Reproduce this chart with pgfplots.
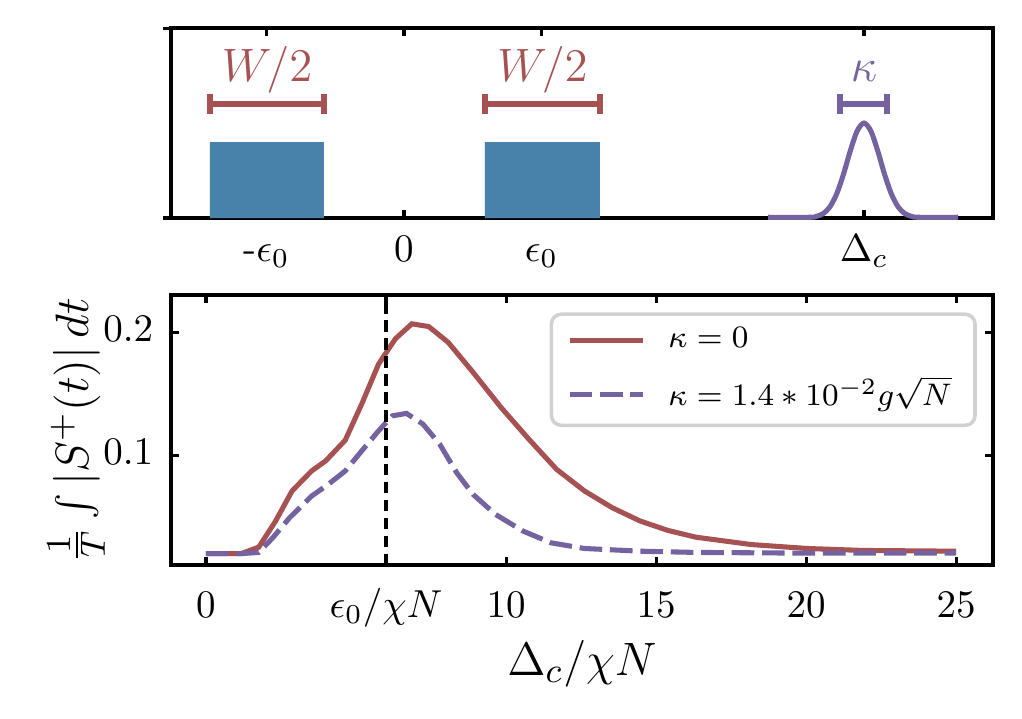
\documentclass[border=0pt]{standalone}
\usepackage{pgfplots}
\pgfplotsset{compat=1.18}
\definecolor{cred}{HTML}{A65252}
\definecolor{cpurple}{HTML}{7463A0}
\definecolor{cblue}{HTML}{4882AA}

\begin{document}
\begin{tikzpicture}
\useasboundingbox (-43.8pt,-39.2pt) rectangle (218.2pt,144.9pt);

% lower panel
\begin{axis}[
    at={(0pt,0pt)}, anchor=south west,
    scale only axis,
    width=210.8pt, height=69.2pt,
    xmin=-1.17, xmax=26.23,
    ymin=0.0106, ymax=0.230,
    xtick={0,6,10,15,20,25},
    xticklabels={$0$,$\epsilon_0/\chi N$,$10$,$15$,$20$,$25$},
    ytick={0.1,0.2},
    yticklabels={$0.1$,$0.2$},
    tick align=inside,
    tick pos=both,
    major tick length=2pt,
    axis line style={line width=1pt},
    tick style={line width=0.8pt, black},
    typeset ticklabels with strut,
    xticklabel style={yshift=-1.5pt},
    yticklabel style={xshift=-1pt},
    xlabel={$\Delta_c/\chi N$},
    ylabel={$\frac{1}{T}\int|S^{+}(t)|\,dt$},
    xlabel style={at={(axis description cs:0.5,0)}, anchor=base, yshift=-28.2pt, font=\fontsize{12.5}{14}\selectfont},
    ylabel style={at={(axis description cs:-0.100,0.5)}, anchor=base, font=\fontsize{12.5}{14}\selectfont},
    legend style={at={(1,1)}, anchor=north east, xshift=-4.2pt, yshift=-4.4pt,
        draw=black!18, line width=0.9pt, rounded corners=2.5pt,
        font=\fontsize{8}{10}\selectfont, row sep=1.8pt, column sep=4pt,
        inner xsep=4pt, inner ysep=1.5pt},
    legend cell align=left,
    legend image code/.code={\draw[#1] (0pt,0pt) -- (18.7pt,0pt);},
]
\addplot[cred, line width=1.3pt] coordinates {
    (0,0.020) (1.17,0.020) (1.76,0.0253) (2.32,0.0465) (2.87,0.071)
    (3.52,0.0872) (3.99,0.0954) (4.64,0.1122) (5.19,0.1416) (5.75,0.174)
    (6.31,0.1946) (6.86,0.2068) (7.42,0.2046) (8.07,0.1918) (8.9,0.1674)
    (9.83,0.1389) (10.76,0.113) (11.68,0.0886) (12.61,0.071) (13.54,0.0573)
    (14.47,0.0465) (15.39,0.0389) (16.32,0.0334) (18.17,0.0274) (20.03,0.0242)
    (21.88,0.0226) (25,0.022)
};
\addlegendentry{$\kappa=0$}
\addplot[cpurple, line width=1.3pt, dash pattern=on 5.8pt off 2pt] coordinates {
    (0,0.020) (1.17,0.020) (1.76,0.021) (2.23,0.033) (2.78,0.049)
    (3.52,0.0668) (4.08,0.0764) (4.64,0.0872) (5.19,0.1035) (5.75,0.1198)
    (6.21,0.132) (6.68,0.134) (7.23,0.1253) (7.79,0.109) (8.35,0.0859)
    (8.9,0.0682) (9.64,0.052) (10.57,0.0383) (11.5,0.0288) (12.61,0.0242)
    (14.47,0.022) (16.32,0.021) (20.03,0.0204) (25,0.0204)
};
\addlegendentry{$\kappa=1.4*10^{-2}g\sqrt{N}$}
\addplot[black, line width=0.8pt, dash pattern=on 3pt off 1.6pt, forget plot] coordinates {(6,0.0106) (6,0.230)};
\end{axis}

% upper panel
\begin{axis}[
    at={(0pt,89pt)}, anchor=south west,
    scale only axis,
    width=210.8pt, height=48.7pt,
    xmin=-1.695, xmax=4.284,
    ymin=0, ymax=1,
    xtick={-1,0,1,3.345},
    xticklabels={{-$\epsilon_0$},{$0$},{$\epsilon_0$},{$\Delta_c$}},
    ytick={0,1},
    yticklabels={},
    xtick align=inside,
    ytick align=outside,
    xtick pos=both,
    ytick pos=left,
    major tick length=2pt,
    axis line style={line width=1pt},
    tick style={line width=0.8pt, black},
    typeset ticklabels with strut,
    xticklabel style={yshift=0.8pt},
    clip=false,
]
\addplot[fill=cblue, draw=none] coordinates {(-1.411,0) (-1.411,0.4) (-0.582,0.4) (-0.582,0)} \closedcycle;
\addplot[fill=cblue, draw=none] coordinates {(0.589,0) (0.589,0.4) (1.425,0.4) (1.425,0)} \closedcycle;
\addplot[cpurple, line width=1.3pt, smooth] coordinates {
    (2.647,0.004) (2.945,0.004) (2.995,0.008) (3.045,0.022) (3.095,0.057)
    (3.145,0.125) (3.195,0.229) (3.245,0.353) (3.295,0.458) (3.345,0.5)
    (3.395,0.458) (3.445,0.353) (3.495,0.229) (3.545,0.125) (3.595,0.057)
    (3.645,0.022) (3.695,0.008) (3.745,0.004) (4.03,0.004)
};
\addplot[cred, line width=1.4pt, mark=|, mark size=2.6pt, mark options={solid, line width=1.4pt}] coordinates {(-1.411,0.6) (-0.582,0.6)};
\addplot[cred, line width=1.4pt, mark=|, mark size=2.6pt, mark options={solid, line width=1.4pt}] coordinates {(0.589,0.6) (1.425,0.6)};
\addplot[cpurple, line width=1.4pt, mark=|, mark size=2.6pt, mark options={solid, line width=1.4pt}] coordinates {(3.171,0.6) (3.513,0.6)};
\node[text=cred, font=\fontsize{12.5}{14}\selectfont] at (axis cs:-0.996,0.78) {$W/2$};
\node[text=cred, font=\fontsize{12.5}{14}\selectfont] at (axis cs:1.007,0.78) {$W/2$};
\node[text=cpurple, font=\fontsize{12.5}{14}\selectfont] at (axis cs:3.345,0.77) {$\kappa$};
\end{axis}
\end{tikzpicture}
\end{document}
